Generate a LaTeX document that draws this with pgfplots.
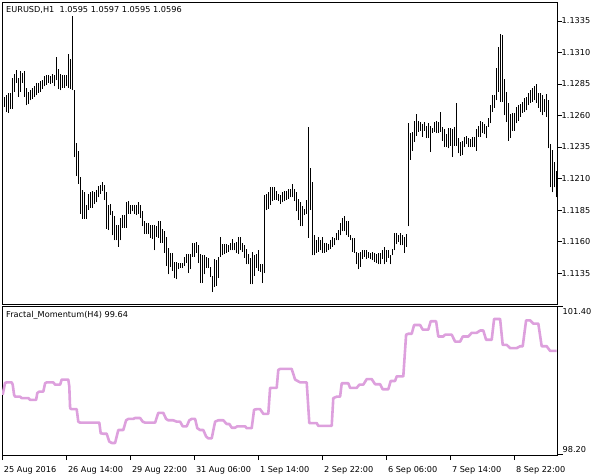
\documentclass[border=0pt]{standalone}
\usepackage{fontspec}
\setmainfont{DejaVu Sans}
\usepackage{pgfplots}
\usepackage{pgfplotstable}
\pgfplotsset{compat=1.18}
\definecolor{fm}{RGB}{221,160,221}

\pgfplotstableread{
i l h
1 1.1267 1.1275
2 1.1263 1.1276
3 1.1262 1.1278
4 1.1265 1.1278
5 1.1265 1.1290
6 1.1279 1.1293
7 1.1286 1.1296
8 1.1275 1.1290
9 1.1279 1.1295
10 1.1286 1.1294
11 1.1275 1.1295
12 1.1268 1.1282
13 1.1269 1.1279
14 1.1272 1.1280
15 1.1273 1.1282
16 1.1275 1.1283
17 1.1276 1.1286
18 1.1278 1.1286
19 1.1279 1.1287
20 1.1281 1.1288
21 1.1283 1.1291
22 1.1284 1.1292
23 1.1286 1.1292
24 1.1285 1.1291
25 1.1286 1.1293
26 1.1283 1.1292
27 1.1288 1.1306
28 1.1281 1.1297
29 1.1280 1.1293
30 1.1282 1.1292
31 1.1282 1.1292
32 1.1283 1.1292
33 1.1282 1.1309
34 1.1281 1.1305
35 1.1280 1.1339
36 1.1227 1.1280
37 1.1212 1.1238
38 1.1206 1.1232
39 1.1182 1.1211
40 1.1178 1.1201
41 1.1178 1.1199
42 1.1178 1.1189
43 1.1185 1.1198
44 1.1187 1.1199
45 1.1187 1.1200
46 1.1190 1.1199
47 1.1191 1.1201
48 1.1195 1.1204
49 1.1198 1.1205
50 1.1200 1.1207
51 1.1193 1.1205
52 1.1170 1.1199
53 1.1169 1.1189
54 1.1181 1.1190
55 1.1165 1.1184
56 1.1161 1.1180
57 1.1161 1.1173
58 1.1156 1.1173
59 1.1161 1.1179
60 1.1171 1.1181
61 1.1171 1.1181
62 1.1171 1.1191
63 1.1182 1.1192
64 1.1182 1.1189
65 1.1184 1.1189
66 1.1182 1.1189
67 1.1181 1.1189
68 1.1182 1.1191
69 1.1179 1.1189
70 1.1172 1.1184
71 1.1166 1.1176
72 1.1166 1.1175
73 1.1166 1.1175
74 1.1163 1.1173
75 1.1162 1.1173
76 1.1153 1.1173
77 1.1164 1.1172
78 1.1163 1.1176
79 1.1159 1.1176
80 1.1159 1.1170
81 1.1151 1.1168
82 1.1141 1.1164
83 1.1134 1.1155
84 1.1140 1.1151
85 1.1137 1.1151
86 1.1131 1.1144
87 1.1130 1.1144
88 1.1138 1.1143
89 1.1139 1.1143
90 1.1139 1.1143
91 1.1141 1.1148
92 1.1143 1.1150
93 1.1135 1.1150
94 1.1138 1.1150
95 1.1148 1.1159
96 1.1148 1.1159
97 1.1151 1.1160
98 1.1143 1.1157
99 1.1127 1.1150
100 1.1127 1.1149
101 1.1134 1.1149
102 1.1139 1.1148
103 1.1139 1.1147
104 1.1132 1.1140
105 1.1120 1.1133
106 1.1124 1.1146
107 1.1125 1.1145
108 1.1131 1.1148
109 1.1148 1.1164
110 1.1149 1.1158
111 1.1150 1.1158
112 1.1151 1.1158
113 1.1152 1.1157
114 1.1153 1.1159
115 1.1153 1.1162
116 1.1153 1.1159
117 1.1151 1.1160
118 1.1150 1.1164
119 1.1153 1.1164
120 1.1152 1.1159
121 1.1147 1.1157
122 1.1142 1.1154
123 1.1142 1.1150
124 1.1126 1.1147
125 1.1126 1.1152
126 1.1133 1.1149
127 1.1139 1.1150
128 1.1137 1.1153
129 1.1136 1.1142
130 1.1127 1.1142
131 1.1135 1.1197
132 1.1185 1.1198
133 1.1186 1.1199
134 1.1189 1.1203
135 1.1192 1.1203
136 1.1193 1.1203
137 1.1193 1.1200
138 1.1192 1.1198
139 1.1190 1.1197
140 1.1191 1.1199
141 1.1192 1.1200
142 1.1193 1.1200
143 1.1194 1.1202
144 1.1195 1.1202
145 1.1195 1.1206
146 1.1192 1.1202
147 1.1184 1.1199
148 1.1177 1.1194
149 1.1172 1.1191
150 1.1172 1.1188
151 1.1181 1.1186
152 1.1182 1.1193
153 1.1163 1.1251
154 1.1185 1.1218
155 1.1149 1.1207
156 1.1149 1.1165
157 1.1151 1.1161
158 1.1152 1.1164
159 1.1153 1.1161
160 1.1151 1.1164
161 1.1151 1.1159
162 1.1152 1.1159
163 1.1153 1.1158
164 1.1154 1.1161
165 1.1156 1.1164
166 1.1157 1.1163
167 1.1161 1.1167
168 1.1161 1.1169
169 1.1165 1.1175
170 1.1168 1.1179
171 1.1168 1.1180
172 1.1165 1.1176
173 1.1164 1.1176
174 1.1161 1.1165
175 1.1152 1.1163
176 1.1151 1.1163
177 1.1142 1.1152
178 1.1138 1.1151
179 1.1140 1.1152
180 1.1146 1.1153
181 1.1148 1.1153
182 1.1146 1.1153
183 1.1147 1.1152
184 1.1146 1.1151
185 1.1145 1.1152
186 1.1144 1.1151
187 1.1143 1.1150
188 1.1142 1.1151
189 1.1142 1.1151
190 1.1146 1.1153
191 1.1142 1.1156
192 1.1144 1.1153
193 1.1147 1.1153
194 1.1142 1.1149
195 1.1149 1.1154
196 1.1153 1.1167
197 1.1158 1.1167
198 1.1160 1.1165
199 1.1157 1.1167
200 1.1157 1.1165
201 1.1151 1.1164
202 1.1156 1.1166
203 1.1172 1.1254
204 1.1225 1.1246
205 1.1232 1.1247
206 1.1239 1.1256
207 1.1244 1.1261
208 1.1247 1.1256
209 1.1248 1.1255
210 1.1243 1.1253
211 1.1248 1.1255
212 1.1242 1.1252
213 1.1242 1.1254
214 1.1231 1.1252
215 1.1246 1.1250
216 1.1247 1.1255
217 1.1246 1.1256
218 1.1246 1.1255
219 1.1247 1.1263
220 1.1240 1.1251
221 1.1235 1.1249
222 1.1235 1.1245
223 1.1234 1.1250
224 1.1236 1.1250
225 1.1227 1.1249
226 1.1236 1.1251
227 1.1236 1.1270
228 1.1230 1.1242
229 1.1228 1.1239
230 1.1229 1.1240
231 1.1235 1.1243
232 1.1237 1.1244
233 1.1235 1.1242
234 1.1235 1.1241
235 1.1235 1.1243
236 1.1235 1.1243
237 1.1232 1.1249
238 1.1243 1.1252
239 1.1243 1.1256
240 1.1246 1.1255
241 1.1245 1.1253
242 1.1242 1.1252
243 1.1251 1.1258
244 1.1254 1.1268
245 1.1263 1.1276
246 1.1266 1.1276
247 1.1272 1.1298
248 1.1279 1.1314
249 1.1271 1.1325
250 1.1271 1.1324
251 1.1260 1.1289
252 1.1255 1.1279
253 1.1240 1.1270
254 1.1242 1.1261
255 1.1248 1.1262
256 1.1248 1.1262
257 1.1254 1.1267
258 1.1256 1.1268
259 1.1259 1.1269
260 1.1262 1.1271
261 1.1263 1.1274
262 1.1264 1.1275
263 1.1268 1.1278
264 1.1270 1.1280
265 1.1271 1.1282
266 1.1272 1.1283
267 1.1270 1.1285
268 1.1266 1.1278
269 1.1263 1.1278
270 1.1260 1.1276
271 1.1263 1.1273
272 1.1259 1.1277
273 1.1234 1.1272
274 1.1203 1.1237
275 1.1199 1.1233
276 1.1203 1.1223
277 1.1195 1.1216
}\bars

\begin{document}
\begin{tikzpicture}[font=\fontsize{8.2}{9.8}\selectfont]
\useasboundingbox (0,0) rectangle (604bp,-475bp);
\begin{axis}[name=top, at={(2bp,-2bp)}, anchor=north west, scale only axis,
  width=555.5bp, height=302bp,
  xmin=-0.15, xmax=277.6, ymin=1.11105, ymax=1.1350,
  xtick=\empty,
  ytick={1.1135,1.1160,1.1185,1.1210,1.1235,1.1260,1.1285,1.1310,1.1335},
  yticklabels={1.1135,1.1160,1.1185,1.1210,1.1235,1.1260,1.1285,1.1310,1.1335},
  scaled y ticks=false,
  ytick pos=right, tick align=outside, major tick length=4bp,
  yticklabel style={anchor=west, inner sep=0pt, xshift=0bp},
  axis line style={line width=0.8bp},
  every tick/.style={black, line width=0.8bp},
]
\addplot[draw=none, mark=none,
  error bars/.cd, y dir=plus, y explicit, error mark=none,
  error bar style={draw=black, line width=1bp}]
  table[x=i, y=l, y error plus expr=\thisrow{h}-\thisrow{l}] {\bars};
\end{axis}
\begin{axis}[name=bot, at={(2bp,-306bp)}, anchor=north west, scale only axis,
  width=555.5bp, height=149bp,
  xmin=-0.15, xmax=277.6, ymin=98.19, ymax=101.41,
  xtick={0,32,64,96,128,160,192,224,256},
  xticklabels={25 Aug 2016,26 Aug 14:00,29 Aug 22:00,31 Aug 06:00,1 Sep 14:00,2 Sep 22:00,6 Sep 06:00,7 Sep 14:00,8 Sep 22:00},
  xtick pos=left, ytick pos=right,
  tick align=outside, major tick length=5bp,
  xticklabel style={anchor=west, inner sep=0pt, xshift=1.5bp, yshift=-10bp},
  ytick={98.2}, yticklabels={98.20},
  yticklabel style={anchor=south west, inner xsep=0pt, inner ysep=1.5bp},
  extra y ticks={101.4}, extra y tick labels={101.40},
  extra y tick style={yticklabel style={anchor=north west}},
  axis line style={line width=0.8bp},
  every tick/.style={black, line width=0.8bp},
]
\addplot[fm, line width=2.6bp, line join=round] coordinates {
(0.2,99.49) (1.4,99.75) (2.4,99.76) (4.7,99.76) (5.2,99.71) (5.9,99.49) (6.4,99.45)
(8.9,99.45) (9.7,99.42) (13,99.42) (13.9,99.38) (16.9,99.38) (17.5,99.53) (18.5,99.56)
(20.5,99.56) (21.4,99.74) (22.2,99.76) (25.5,99.76) (26.4,99.71) (28.9,99.71) (29.7,99.82)
(33,99.82) (33.5,99.67) (33.9,99.20) (34.7,99.18) (37.2,99.18) (38,98.91) (38.9,98.89)
(48.5,98.89) (49.2,98.66) (50.5,98.65) (52.2,98.65) (53.5,98.48) (54.7,98.45) (56.4,98.45)
(57.2,98.59) (58,98.73) (60.5,98.73) (61.9,98.94) (63,98.97) (65.5,98.97) (66.4,98.99)
(68.9,98.99) (70.2,98.91) (71.4,98.89) (76.4,98.89) (78,99.10) (80.5,99.10) (81.9,98.97)
(83,98.94) (85.5,98.94) (87.2,98.91) (88.9,98.91) (90.2,98.81) (92.2,98.81) (93.5,98.94)
(94.7,98.97) (96.4,98.97) (97.5,98.77) (98.9,98.73) (100.5,98.73) (101.9,98.59) (103,98.55)
(104.7,98.55) (106.4,98.91) (108,98.94) (110.5,98.94) (112.2,98.86) (113.5,98.86) (114.7,98.78)
(116.4,98.78) (117.5,98.81) (121.4,98.81) (122.2,98.77) (124.7,98.77) (125.9,99.17) (127.2,99.18)
(128.9,99.18) (130.5,99.08) (133,99.08) (133.9,99.64) (137.2,99.64) (138,100.03) (138.9,100.05)
(144.7,100.05) (146.4,99.82) (148.9,99.76) (152.2,99.76) (153.5,98.88) (157.2,98.88) (158,98.82)
(164.7,98.82) (165.5,99.42) (167.2,99.45) (168.9,99.45) (169.7,99.74) (173,99.74) (173.9,99.64)
(177.2,99.64) (178.5,99.71) (180.5,99.71) (182.2,99.83) (184.7,99.83) (186.4,99.72) (188.9,99.72)
(190.2,99.61) (193,99.61) (194.2,99.79) (196.4,99.79) (197.2,99.89) (200.5,99.89) (201.9,100.79)
(203,100.81) (204.7,100.81) (205.9,101.00) (208.9,101.00) (210.2,100.90) (213,100.90) (214.2,101.08)
(216.9,101.08) (218,100.75) (220.5,100.75) (221.4,100.79) (224.7,100.79) (226.4,100.64) (228.9,100.64)
(230.2,100.75) (233,100.75) (234.7,100.83) (237.2,100.83) (238.9,100.88) (240.5,100.88) (241.9,100.68)
(244.7,100.68) (245.9,101.13) (248.9,101.13) (250.2,100.57) (252.2,100.57) (253.9,100.50) (257.2,100.50)
(258.9,100.54) (260.2,100.54) (261.9,101.10) (263.9,101.10) (265.5,101.03) (268,101.03) (269.7,100.54)
(272.2,100.54) (273.9,100.44) (277.2,100.44)
};
\end{axis}
\node[anchor=west, inner sep=0pt] at (6bp,-10bp) {EURUSD,H1\ \ 1.0595 1.0597 1.0595 1.0596};
\node[anchor=west, inner sep=0pt] at (6bp,-315.7bp) {Fractal\_Momentum(H4) 99.64};
\end{tikzpicture}
\end{document}
